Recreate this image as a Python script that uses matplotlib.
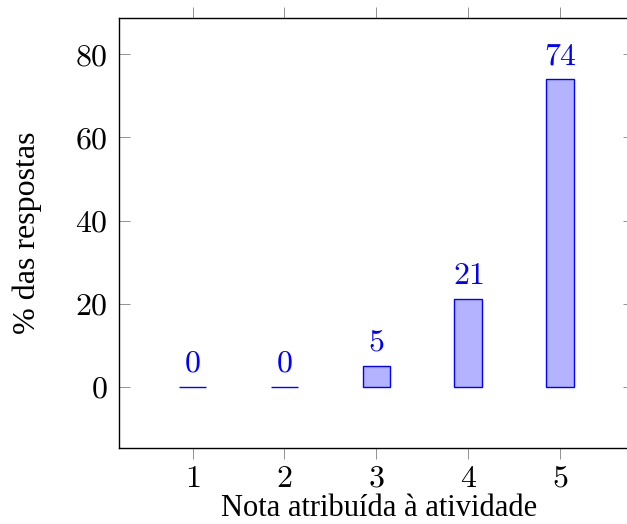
import matplotlib
matplotlib.use("Agg")
import matplotlib.pyplot as plt

notas = [1, 2, 3, 4, 5]
percentuais = [0, 0, 5, 21, 74]
yticks = [0, 20, 40, 60, 80]

plt.rcParams['mathtext.fontset'] = 'cm'
plt.rcParams['font.family'] = 'Liberation Serif'

fig = plt.figure(figsize=(6.27, 5.24), dpi=100)
ax = fig.add_axes([0.1898, 0.145, 0.8209, 0.8216])

bars = ax.bar(notas, percentuais, width=0.3,
              color=(0.7, 0.7, 1.0), edgecolor='blue', linewidth=1.0)
ax.bar_label(bars, fmt='${:.0f}$', padding=6, color='blue', fontsize=23)

ax.set_xlim(0.2, 5.8)
ax.set_ylim(-14.8, 88.9)
ax.set_xticks(notas)
ax.set_xticklabels(['$%d$' % n for n in notas])
ax.set_yticks(yticks)
ax.set_yticklabels(['$%d$' % v for v in yticks])

ax.tick_params(axis='x', direction='out', top=True, bottom=True,
               length=8, width=0.6, color='gray', labelsize=23, pad=4)
ax.tick_params(axis='y', direction='in', left=True, right=True,
               length=8, width=0.6, color='gray', labelsize=23, pad=8)
for s in ax.spines.values():
    s.set_linewidth(1.0)

xl = ax.set_xlabel('Nota atribuída à atividade', fontsize=22)
xl.set_verticalalignment('baseline')
ax.xaxis.set_label_coords(0.505, -0.158)
ax.set_ylabel('% das respostas', fontsize=23)
ax.yaxis.set_label_coords(-0.149, 0.5)

fig.savefig('out.png', dpi=100)
